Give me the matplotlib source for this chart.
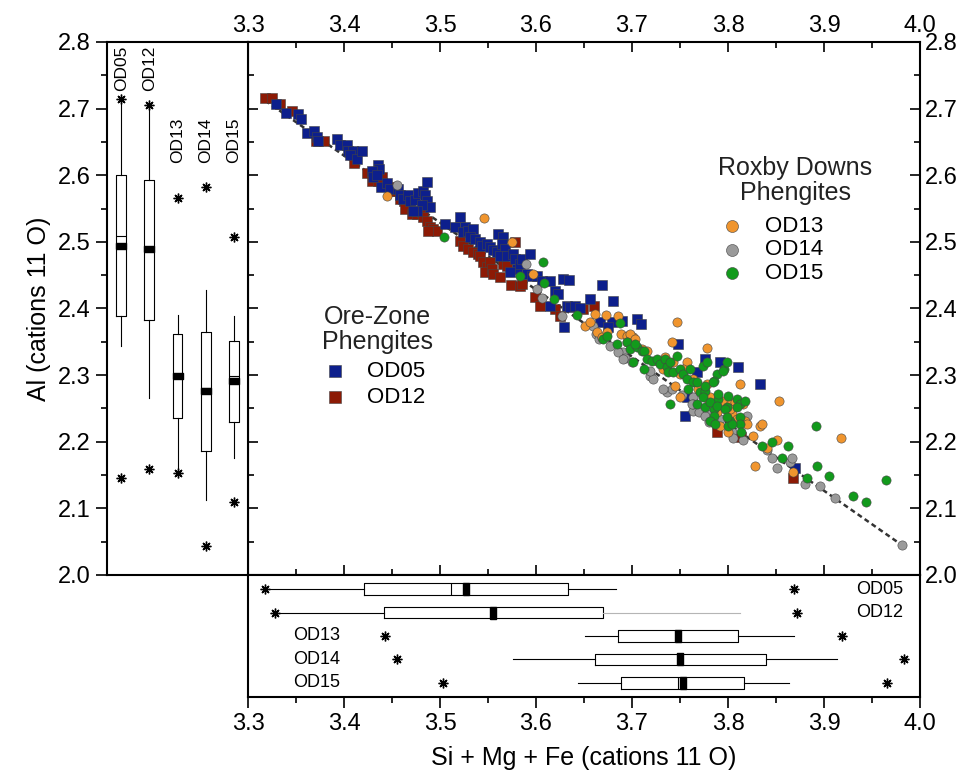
import matplotlib.pyplot as plt
from matplotlib.ticker import MultipleLocator

plt.rcParams['font.family'] = ['Liberation Sans', 'DejaVu Sans']

# ---- scatter data (Si+Mg+Fe vs Al, cations 11 O) ----
od05_x = [3.329, 3.340, 3.352, 3.355, 3.361, 3.369, 3.372, 3.373, 3.393, 3.396, 3.403, 3.404, 3.409, 3.406,
          3.414, 3.419, 3.435, 3.436, 3.429, 3.430, 3.434, 3.439, 3.445, 3.448, 3.456, 3.458, 3.461, 3.467,
          3.469, 3.474, 3.477, 3.482, 3.484, 3.486, 3.490, 3.481, 3.476, 3.472, 3.486, 3.505, 3.516, 3.521,
          3.526, 3.524, 3.529, 3.534, 3.531, 3.536, 3.542, 3.544, 3.549, 3.552, 3.555, 3.559, 3.560, 3.566,
          3.565, 3.568, 3.563, 3.570, 3.576, 3.578, 3.580, 3.573, 3.583, 3.585, 3.594, 3.591, 3.596, 3.601,
          3.606, 3.615, 3.620, 3.623, 3.615, 3.628, 3.634, 3.632, 3.635, 3.641, 3.646, 3.656, 3.669, 3.680,
          3.667, 3.679, 3.675, 3.690, 3.705, 3.709, 3.629, 3.748, 3.776, 3.792, 3.810, 3.768, 3.833, 3.755,
          3.757, 3.870]
od05_y = [2.707, 2.693, 2.692, 2.684, 2.664, 2.666, 2.658, 2.651, 2.655, 2.646, 2.645, 2.637, 2.637, 2.630,
          2.625, 2.636, 2.616, 2.610, 2.606, 2.597, 2.601, 2.583, 2.588, 2.580, 2.580, 2.570, 2.565, 2.570,
          2.561, 2.563, 2.573, 2.577, 2.570, 2.561, 2.553, 2.555, 2.547, 2.546, 2.590, 2.527, 2.523, 2.538,
          2.523, 2.515, 2.517, 2.520, 2.508, 2.505, 2.500, 2.494, 2.497, 2.493, 2.488, 2.485, 2.512, 2.508,
          2.497, 2.490, 2.479, 2.479, 2.482, 2.475, 2.460, 2.455, 2.467, 2.475, 2.482, 2.452, 2.449, 2.449,
          2.441, 2.441, 2.426, 2.422, 2.404, 2.444, 2.443, 2.404, 2.402, 2.404, 2.400, 2.414, 2.435, 2.411,
          2.380, 2.380, 2.372, 2.381, 2.384, 2.377, 2.372, 2.346, 2.324, 2.319, 2.312, 2.304, 2.286, 2.238,
          2.267, 2.161]

od12_x = [3.318, 3.325, 3.333, 3.346, 3.371, 3.379, 3.410, 3.424, 3.429, 3.435, 3.440, 3.440, 3.451, 3.455,
          3.460, 3.448, 3.458, 3.466, 3.463, 3.464, 3.471, 3.476, 3.481, 3.482, 3.486, 3.490, 3.493, 3.497,
          3.488, 3.521, 3.524, 3.529, 3.534, 3.540, 3.542, 3.545, 3.549, 3.547, 3.552, 3.554, 3.555, 3.563,
          3.566, 3.570, 3.574, 3.583, 3.585, 3.578, 3.599, 3.604, 3.620, 3.625, 3.649, 3.660, 3.789, 3.814,
          3.868]
od12_y = [2.716, 2.716, 2.707, 2.696, 2.652, 2.651, 2.618, 2.603, 2.592, 2.591, 2.598, 2.588, 2.583, 2.576,
          2.569, 2.577, 2.565, 2.554, 2.562, 2.550, 2.542, 2.542, 2.545, 2.538, 2.532, 2.523, 2.520, 2.517,
          2.517, 2.502, 2.494, 2.490, 2.485, 2.482, 2.479, 2.470, 2.462, 2.455, 2.470, 2.460, 2.452, 2.447,
          2.467, 2.464, 2.435, 2.434, 2.437, 2.500, 2.417, 2.404, 2.399, 2.389, 2.399, 2.404, 2.215, 2.207,
          2.146]

od13_x = [3.445, 3.546, 3.575, 3.597, 3.651, 3.656, 3.661, 3.673, 3.685, 3.664, 3.689, 3.695, 3.701, 3.669,
          3.674, 3.698, 3.703, 3.695, 3.710, 3.716, 3.747, 3.742, 3.778, 3.757, 3.734, 3.726, 3.753, 3.750,
          3.745, 3.764, 3.769, 3.750, 3.779, 3.789, 3.799, 3.812, 3.807, 3.816, 3.804, 3.809, 3.818, 3.732,
          3.743, 3.853, 3.778, 3.781, 3.794, 3.802, 3.820, 3.800, 3.826, 3.833, 3.835, 3.851, 3.841, 3.828,
          3.868, 3.918, 3.792, 3.789]
od13_y = [2.569, 2.536, 2.500, 2.452, 2.374, 2.380, 2.392, 2.390, 2.389, 2.365, 2.362, 2.359, 2.357, 2.357,
          2.365, 2.362, 2.354, 2.350, 2.339, 2.336, 2.380, 2.350, 2.341, 2.319, 2.327, 2.321, 2.309, 2.301,
          2.283, 2.294, 2.279, 2.267, 2.264, 2.256, 2.259, 2.286, 2.259, 2.256, 2.241, 2.234, 2.231, 2.309,
          2.319, 2.261, 2.286, 2.267, 2.261, 2.249, 2.226, 2.215, 2.208, 2.223, 2.226, 2.203, 2.191, 2.163,
          2.154, 2.206, 2.223, 2.244]

od14_x = [3.455, 3.590, 3.601, 3.606, 3.627, 3.659, 3.663, 3.666, 3.677, 3.691, 3.669, 3.685, 3.693, 3.719,
          3.722, 3.719, 3.736, 3.742, 3.752, 3.764, 3.764, 3.770, 3.778, 3.785, 3.792, 3.804, 3.805, 3.816,
          3.820, 3.812, 3.841, 3.846, 3.851, 3.865, 3.867, 3.880, 3.896, 3.911, 3.981, 3.691, 3.732, 3.764,
          3.776, 3.780, 3.762, 3.700]
od14_y = [2.586, 2.467, 2.429, 2.416, 2.389, 2.374, 2.362, 2.354, 2.344, 2.335, 2.356, 2.334, 2.325, 2.298,
          2.294, 2.306, 2.274, 2.279, 2.270, 2.267, 2.246, 2.244, 2.241, 2.229, 2.234, 2.215, 2.206, 2.203,
          2.239, 2.234, 2.188, 2.176, 2.161, 2.169, 2.176, 2.136, 2.133, 2.115, 2.045, 2.324, 2.279, 2.256,
          2.238, 2.230, 2.257, 2.320]

od15_x = [3.504, 3.583, 3.607, 3.608, 3.619, 3.643, 3.670, 3.674, 3.684, 3.688, 3.695, 3.698, 3.705, 3.703,
          3.701, 3.710, 3.713, 3.716, 3.721, 3.713, 3.726, 3.729, 3.734, 3.736, 3.740, 3.738, 3.743, 3.747,
          3.750, 3.753, 3.757, 3.760, 3.764, 3.758, 3.768, 3.771, 3.776, 3.774, 3.778, 3.789, 3.785, 3.796,
          3.799, 3.800, 3.809, 3.812, 3.818, 3.768, 3.776, 3.785, 3.790, 3.799, 3.740, 3.785, 3.802, 3.812,
          3.800, 3.795, 3.784, 3.776, 3.790, 3.774, 3.781, 3.789, 3.797, 3.809, 3.812, 3.804, 3.799, 3.781,
          3.786, 3.814, 3.846, 3.835, 3.862, 3.856, 3.892, 3.893, 3.882, 3.905, 3.930, 3.944, 3.965]
od15_y = [2.508, 2.449, 2.470, 2.438, 2.414, 2.390, 2.354, 2.359, 2.347, 2.378, 2.350, 2.339, 2.342, 2.347,
          2.319, 2.336, 2.336, 2.324, 2.321, 2.309, 2.324, 2.316, 2.324, 2.312, 2.319, 2.304, 2.304, 2.328,
          2.309, 2.301, 2.294, 2.309, 2.289, 2.279, 2.289, 2.274, 2.276, 2.313, 2.319, 2.301, 2.291, 2.309,
          2.319, 2.268, 2.264, 2.256, 2.261, 2.256, 2.252, 2.249, 2.264, 2.252, 2.256, 2.238, 2.231, 2.237,
          2.223, 2.306, 2.289, 2.283, 2.271, 2.267, 2.259, 2.253, 2.249, 2.252, 2.226, 2.226, 2.237, 2.231,
          2.226, 2.215, 2.200, 2.193, 2.194, 2.176, 2.223, 2.163, 2.146, 2.148, 2.119, 2.110, 2.143]

# 1:1 substitution line
line_x = [3.318, 3.981]
line_y = [2.712, 2.045]

# ---- box plot summaries ----
samples = ['OD05', 'OD12', 'OD13', 'OD14', 'OD15']

al_whislo = [2.343, 2.265, 2.153, 2.112, 2.176]
al_q1 = [2.389, 2.383, 2.236, 2.186, 2.230]
al_med = [2.509, 2.489, 2.299, 2.281, 2.299]
al_mean = [2.494, 2.489, 2.299, 2.276, 2.291]
al_q3 = [2.600, 2.593, 2.361, 2.365, 2.351]
al_whishi = [2.714, 2.705, 2.390, 2.428, 2.389]
al_min = [2.145, 2.159, 2.153, 2.044, 2.110]
al_max = [2.714, 2.705, 2.566, 2.583, 2.507]

si_whislo = [3.318, 3.328, 3.651, 3.576, 3.644]
si_q1 = [3.421, 3.442, 3.685, 3.661, 3.689]
si_med = [3.511, 3.555, 3.748, 3.750, 3.748]
si_mean = [3.527, 3.555, 3.748, 3.750, 3.753]
si_q3 = [3.633, 3.670, 3.810, 3.840, 3.817]
si_whishi = [3.683, 3.812, 3.869, 3.914, 3.864]
si_min = [3.318, 3.328, 3.443, 3.455, 3.503]
si_max = [3.869, 3.872, 3.919, 3.983, 3.966]

c05, c12 = '#0d1f8c', '#8c1a05'
c13, c14, c15 = '#f0952e', '#9a9a9a', '#129a1c'

fig = plt.figure(figsize=(9.66, 7.72), dpi=100)
ax = fig.add_axes([0.2567, 0.2552, 0.6957, 0.6904])
axl = fig.add_axes([0.1108, 0.2552, 0.1460, 0.6904])
axb = fig.add_axes([0.2567, 0.0972, 0.6957, 0.1580])

# main scatter
ax.plot(line_x, line_y, color='#333333', lw=1.8, ls=(0, (2, 1.4)), zorder=2)
edge = dict(edgecolors='#444444', linewidths=0.4, s=44)
s12 = ax.scatter(od12_x, od12_y, marker='s', c=c12, label='OD12', zorder=3, **edge)
s05 = ax.scatter(od05_x, od05_y, marker='s', c=c05, label='OD05', zorder=4, **edge)
s14 = ax.scatter(od14_x, od14_y, marker='o', c=c14, label='OD14', zorder=5, **edge)
s13 = ax.scatter(od13_x, od13_y, marker='o', c=c13, label='OD13', zorder=6, **edge)
s15 = ax.scatter(od15_x, od15_y, marker='o', c=c15, label='OD15', zorder=7, **edge)

ax.set_xlim(3.3, 4.0)
ax.set_ylim(2.0, 2.8)
ax.xaxis.set_major_locator(MultipleLocator(0.1))
ax.xaxis.set_minor_locator(MultipleLocator(0.05))
ax.yaxis.set_major_locator(MultipleLocator(0.1))
ax.yaxis.set_minor_locator(MultipleLocator(0.05))
ax.tick_params(which='both', direction='in', top=True, bottom=True, left=True, right=True,
               labeltop=True, labelbottom=False, labelleft=False, labelright=True,
               labelsize=17, width=1.2)
ax.tick_params(which='major', length=7)
ax.tick_params(which='minor', length=4)

ax.text(0.193, 0.460, 'Ore-Zone\nPhengites', transform=ax.transAxes, ha='center', va='center',
        fontsize=18, linespacing=1.05, color='#222222')
ax.text(0.814, 0.741, 'Roxby Downs\nPhengites', transform=ax.transAxes, ha='center', va='center',
        fontsize=18, linespacing=1.05, color='#222222')
leg1 = ax.legend(handles=[s05, s12], loc='upper left', bbox_to_anchor=(0.113, 0.402), frameon=False,
                 fontsize=16, handletextpad=0.95, labelspacing=0.25, borderpad=0, borderaxespad=0,
                 handlelength=1.0, scatterpoints=1, markerscale=1.3)
ax.add_artist(leg1)
ax.legend(handles=[s13, s14, s15], loc='upper left', bbox_to_anchor=(0.703, 0.674), frameon=False,
          fontsize=16, handletextpad=1.0, labelspacing=0.12, borderpad=0, borderaxespad=0,
          handlelength=1.0, scatterpoints=1, markerscale=1.3)

# box plot styling
vrect = [(-1, -0.6), (1, -0.6), (1, 0.6), (-1, 0.6), (-1, -0.6)]
hrect = [(-0.6, -1), (0.6, -1), (0.6, 1), (-0.6, 1), (-0.6, -1)]
star = (8, 2, 0)
common = dict(showmeans=True, showcaps=False, showfliers=True, manage_ticks=False,
              boxprops=dict(lw=0.8, color='black'), whiskerprops=dict(lw=0.8, color='black'),
              medianprops=dict(lw=0.8, color='black'),
              flierprops=dict(marker=star, markersize=7, markeredgecolor='black', mew=1.0))

# left: Al box plots
al_stats = []
for i, n in enumerate(samples):
    al_stats.append(dict(label=n, whislo=al_whislo[i], q1=al_q1[i], med=al_med[i], mean=al_mean[i],
                         q3=al_q3[i], whishi=al_whishi[i], fliers=[al_min[i], al_max[i]]))
axl.bxp(al_stats, positions=[1, 2, 3, 4, 5], widths=0.35,
        meanprops=dict(marker=vrect, markersize=7.5, markerfacecolor='black', markeredgecolor='black'),
        **common)
axl.set_xlim(0.5, 5.5)
axl.set_ylim(2.0, 2.8)
axl.set_xticks([])
axl.yaxis.set_major_locator(MultipleLocator(0.1))
axl.yaxis.set_minor_locator(MultipleLocator(0.05))
axl.tick_params(which='both', direction='out', labelsize=17, width=1.2)
axl.tick_params(which='major', length=8)
axl.tick_params(which='minor', length=4)
axl.set_ylabel('Al (cations 11 O)', fontsize=18, labelpad=5)
for i, n in enumerate(samples):
    ty = 2.726 if i < 2 else 2.618
    axl.text(i + 1, ty, n, rotation=90, ha='center', va='bottom', fontsize=12.5)

# bottom: Si+Mg+Fe box plots
rows = [5, 4, 3, 2, 1]
si_stats = []
for i, n in enumerate(samples):
    si_stats.append(dict(label=n, whislo=si_whislo[i], q1=si_q1[i], med=si_med[i], mean=si_mean[i],
                         q3=si_q3[i], whishi=si_whishi[i], fliers=[si_min[i], si_max[i]]))
res = axb.bxp(si_stats, positions=rows, widths=0.5, orientation='horizontal',
              meanprops=dict(marker=hrect, markersize=8, markerfacecolor='black', markeredgecolor='black'),
              **common)
res['whiskers'][3].set_color('#b5b5b5')
axb.set_xlim(3.3, 4.0)
axb.set_ylim(0.4, 5.6)
axb.set_yticks([])
axb.xaxis.set_major_locator(MultipleLocator(0.1))
axb.xaxis.set_minor_locator(MultipleLocator(0.05))
axb.tick_params(which='both', direction='out', labelsize=17, width=1.2)
axb.tick_params(which='major', length=8)
axb.tick_params(which='minor', length=4)
axb.set_xlabel('Si + Mg + Fe (cations 11 O)', fontsize=18, labelpad=8)
for i, n in enumerate(samples):
    tx = 3.933 if i < 2 else 3.347
    axb.text(tx, rows[i], n, ha='left', va='center', fontsize=13)

for a in (ax, axl, axb):
    for sp in a.spines.values():
        sp.set_linewidth(1.5)

fig.savefig('out.png', dpi=100)
